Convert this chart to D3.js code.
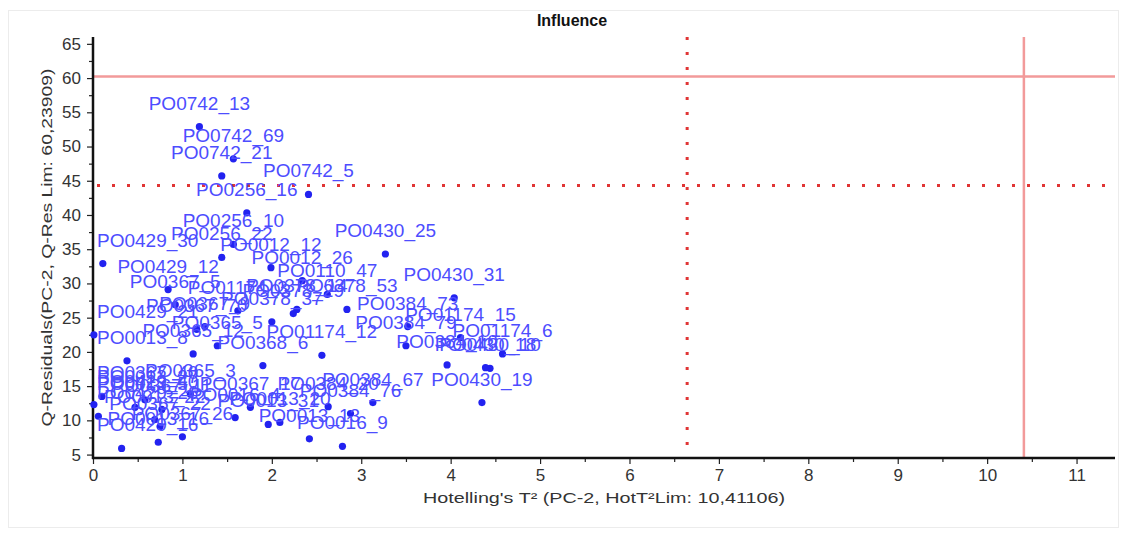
<!DOCTYPE html>
<html>
<head>
<meta charset="utf-8">
<script src="https://cdn.jsdelivr.net/npm/d3@7"></script>
<style>
  body { margin: 0; background: #fff; }
  svg { display: block; font-family: Arial, "Liberation Sans", sans-serif; }
</style>
</head>
<body>
<svg id="chart" width="1124" height="533"></svg>
<script>
// Sample scores: Hotelling's T² and Q-residuals for each observation
const sampleNames = [
  "PO0742_13", "PO0742_69", "PO0742_21", "PO0742_5", "PO0256_16",
  "PO0256_10", "PO0430_25", "PO0429_30", "PO0256_22", "PO0012_12",
  "PO0012_26", "PO0429_12", "PO0110_47", "PO0430_31", "PO0367_5",
  "PO01174_3", "PO0378_53", "PO0378_37", "PO0384_73", "PO0429_21",
  "PO0367_70", "PO01174_15", "PO0365_5", "PO0384_79", "PO01174_6",
  "PO01174_12", "PO0013_8", "PO0368_6", "PO0384_10", "PO0430_10",
  "PO0430_18", "PO0367_40", "PO0365_12", "PO0384_67", "PO0430_19",
  "PO0384_76", "PO0013_13", "PO0016_9", "PO0429_16", "PO0367_26",
  "PO0013_16", "PO0013_20", "PO0429_40", "PO0429_26", "PO0013_5",
  "PO0367_11", "PO0013_22", "PO0367_22", "PO0016_4", "PO0367_17",
  "PO0013_31", "PO0384_20", "PO0378_14", "PO0378_29", "PO0367_9",
  "PO0013_27", "PO0365_3"
];
const hotellingT2 = [
  1.19, 1.57, 1.44, 2.41, 1.72,
  1.57, 3.27, 0.11, 1.44, 1.99,
  2.34, 0.84, 2.62, 4.04, 0.92,
  1.62, 2.84, 2.00, 3.52, 0.01,
  1.16, 4.11, 1.39, 3.50, 4.58,
  2.56, 0.38, 1.90, 3.96, 4.44,
  4.39, 0.10, 1.12, 3.13, 4.35,
  2.88, 2.42, 2.79, 0.32, 1.00,
  0.73, 2.09, 0.01, 0.06, 0.47,
  0.77, 0.69, 0.75, 1.59, 1.76,
  1.96, 2.63, 2.28, 2.24, 1.25,
  0.58, 1.09
];
const qResiduals = [
  52.9, 48.2, 45.7, 43.0, 40.3,
  35.7, 34.3, 32.9, 33.8, 32.3,
  30.4, 29.1, 28.4, 27.9, 26.9,
  26.0, 26.2, 24.4, 23.7, 22.5,
  23.3, 22.1, 20.9, 20.9, 19.7,
  19.5, 18.7, 18.0, 18.1, 17.6,
  17.7, 13.5, 19.7, 12.6, 12.6,
  11.0, 7.3, 6.2, 5.9, 7.6,
  6.8, 9.7, 12.3, 10.6, 11.9,
  11.6, 10.1, 9.1, 10.4, 11.9,
  9.4, 12.0, 26.2, 25.6, 23.7,
  13.0, 13.8
];

// Axis ticks and limits
const xTickValues = [0, 1, 2, 3, 4, 5, 6, 7, 8, 9, 10, 11];
const yTickValues = [5, 10, 15, 20, 25, 30, 35, 40, 45, 50, 55, 60, 65];
const qResLimit = 60.23909;
const t2Limit = 10.41106;
const qResWarning = 44.3;
const t2Warning = 6.645;

const chartTitle = "Influence";
const xTitle = "Hotelling's T\u00B2 (PC-2, HotT\u00B2Lim: 10,41106)";
const yTitle = "Q-Residuals(PC-2, Q-Res Lim: 60,23909)";

const svg = d3.select("#chart");
const plot = { left: 93, right: 1115, top: 37, bottom: 458 };

const x = d3.scaleLinear().domain([0, 11.43]).range([plot.left, plot.right]);
const y = d3.scaleLinear().domain([4.5, 66]).range([plot.bottom, plot.top]);

// Panel frame
svg.append("rect")
  .attr("x", 8.5).attr("y", 10.5)
  .attr("width", 1110).attr("height", 517)
  .attr("fill", "none").attr("stroke", "#ececec");

// Title
svg.append("text")
  .attr("x", 572).attr("y", 26)
  .attr("text-anchor", "middle")
  .attr("font-size", 16).attr("font-weight", "bold")
  .attr("fill", "#111")
  .text(chartTitle);

// Limit lines
const limits = svg.append("g");
limits.append("line")
  .attr("x1", plot.left).attr("x2", plot.right)
  .attr("y1", y(qResLimit)).attr("y2", y(qResLimit))
  .attr("stroke", "#f29a9a").attr("stroke-width", 2.5);
limits.append("line")
  .attr("x1", x(t2Limit)).attr("x2", x(t2Limit))
  .attr("y1", plot.top).attr("y2", plot.bottom)
  .attr("stroke", "#f29a9a").attr("stroke-width", 2.5);
limits.append("line")
  .attr("x1", plot.left + 4).attr("x2", plot.right)
  .attr("y1", y(qResWarning)).attr("y2", y(qResWarning))
  .attr("stroke", "#e03535").attr("stroke-width", 3)
  .attr("stroke-dasharray", "3 12");
limits.append("line")
  .attr("x1", x(t2Warning)).attr("x2", x(t2Warning))
  .attr("y1", plot.top).attr("y2", plot.bottom)
  .attr("stroke", "#e03535").attr("stroke-width", 3)
  .attr("stroke-dasharray", "3 12");

// Axes
function styleAxis(g) {
  g.selectAll("text").attr("font-size", 17).attr("fill", "#333")
    .attr("font-family", "Arial, 'Liberation Sans', sans-serif");
  g.selectAll("line").attr("stroke", "#222").attr("stroke-width", 1.2);
  g.select(".domain").remove();
}

const yAxis = svg.append("g").attr("transform", `translate(${plot.left},0)`);
yAxis.call(d3.axisLeft(y).tickValues(yTickValues).tickSize(6).tickPadding(6)).call(styleAxis);
svg.append("g").attr("transform", `translate(${plot.left},0)`)
  .call(d3.axisLeft(y).tickValues(d3.range(7.5, 66, 5)).tickSize(4).tickFormat(""))
  .call(styleAxis);

const xAxis = svg.append("g").attr("transform", `translate(0,${plot.bottom})`);
xAxis.call(d3.axisBottom(x).tickValues(xTickValues).tickSize(6).tickPadding(5)).call(styleAxis);
svg.append("g").attr("transform", `translate(0,${plot.bottom})`)
  .call(d3.axisBottom(x).tickValues(d3.range(0.5, 11.5, 1)).tickSize(4).tickFormat(""))
  .call(styleAxis);

svg.append("line")
  .attr("x1", plot.left).attr("x2", plot.left)
  .attr("y1", plot.top).attr("y2", plot.bottom + 1)
  .attr("stroke", "#111").attr("stroke-width", 2.5);
svg.append("line")
  .attr("x1", plot.left - 1).attr("x2", plot.right)
  .attr("y1", plot.bottom).attr("y2", plot.bottom)
  .attr("stroke", "#111").attr("stroke-width", 2.5);

// Axis titles
svg.append("text")
  .attr("x", (plot.left + plot.right) / 2).attr("y", 503)
  .attr("text-anchor", "middle")
  .attr("font-size", 15).attr("fill", "#333")
  .attr("textLength", 362).attr("lengthAdjust", "spacingAndGlyphs")
  .text(xTitle);
svg.append("text")
  .attr("transform", `translate(52,${(plot.top + plot.bottom) / 2}) rotate(-90)`)
  .attr("text-anchor", "middle")
  .attr("font-size", 15).attr("fill", "#333")
  .attr("textLength", 358).attr("lengthAdjust", "spacingAndGlyphs")
  .text(yTitle);

// Points and labels
const samples = sampleNames.map((name, i) => ({ name, t2: hotellingT2[i], q: qResiduals[i] }));

svg.append("g").selectAll("circle")
  .data(samples).join("circle")
  .attr("cx", d => x(d.t2)).attr("cy", d => y(d.q))
  .attr("r", 3.6).attr("fill", "#2222f0");

svg.append("g").selectAll("text")
  .data(samples).join("text")
  .attr("font-size", 19).attr("fill", "#4d4dff")
  .attr("y", d => y(d.q) - 17)
  .text(d => d.name)
  .each(function (d) {
    const w = this.getComputedTextLength();
    let left = x(d.t2) - w / 2;
    if (left < plot.left + 4) left = plot.left + 4;
    d3.select(this).attr("x", left);
  });
</script>
</body>
</html>
